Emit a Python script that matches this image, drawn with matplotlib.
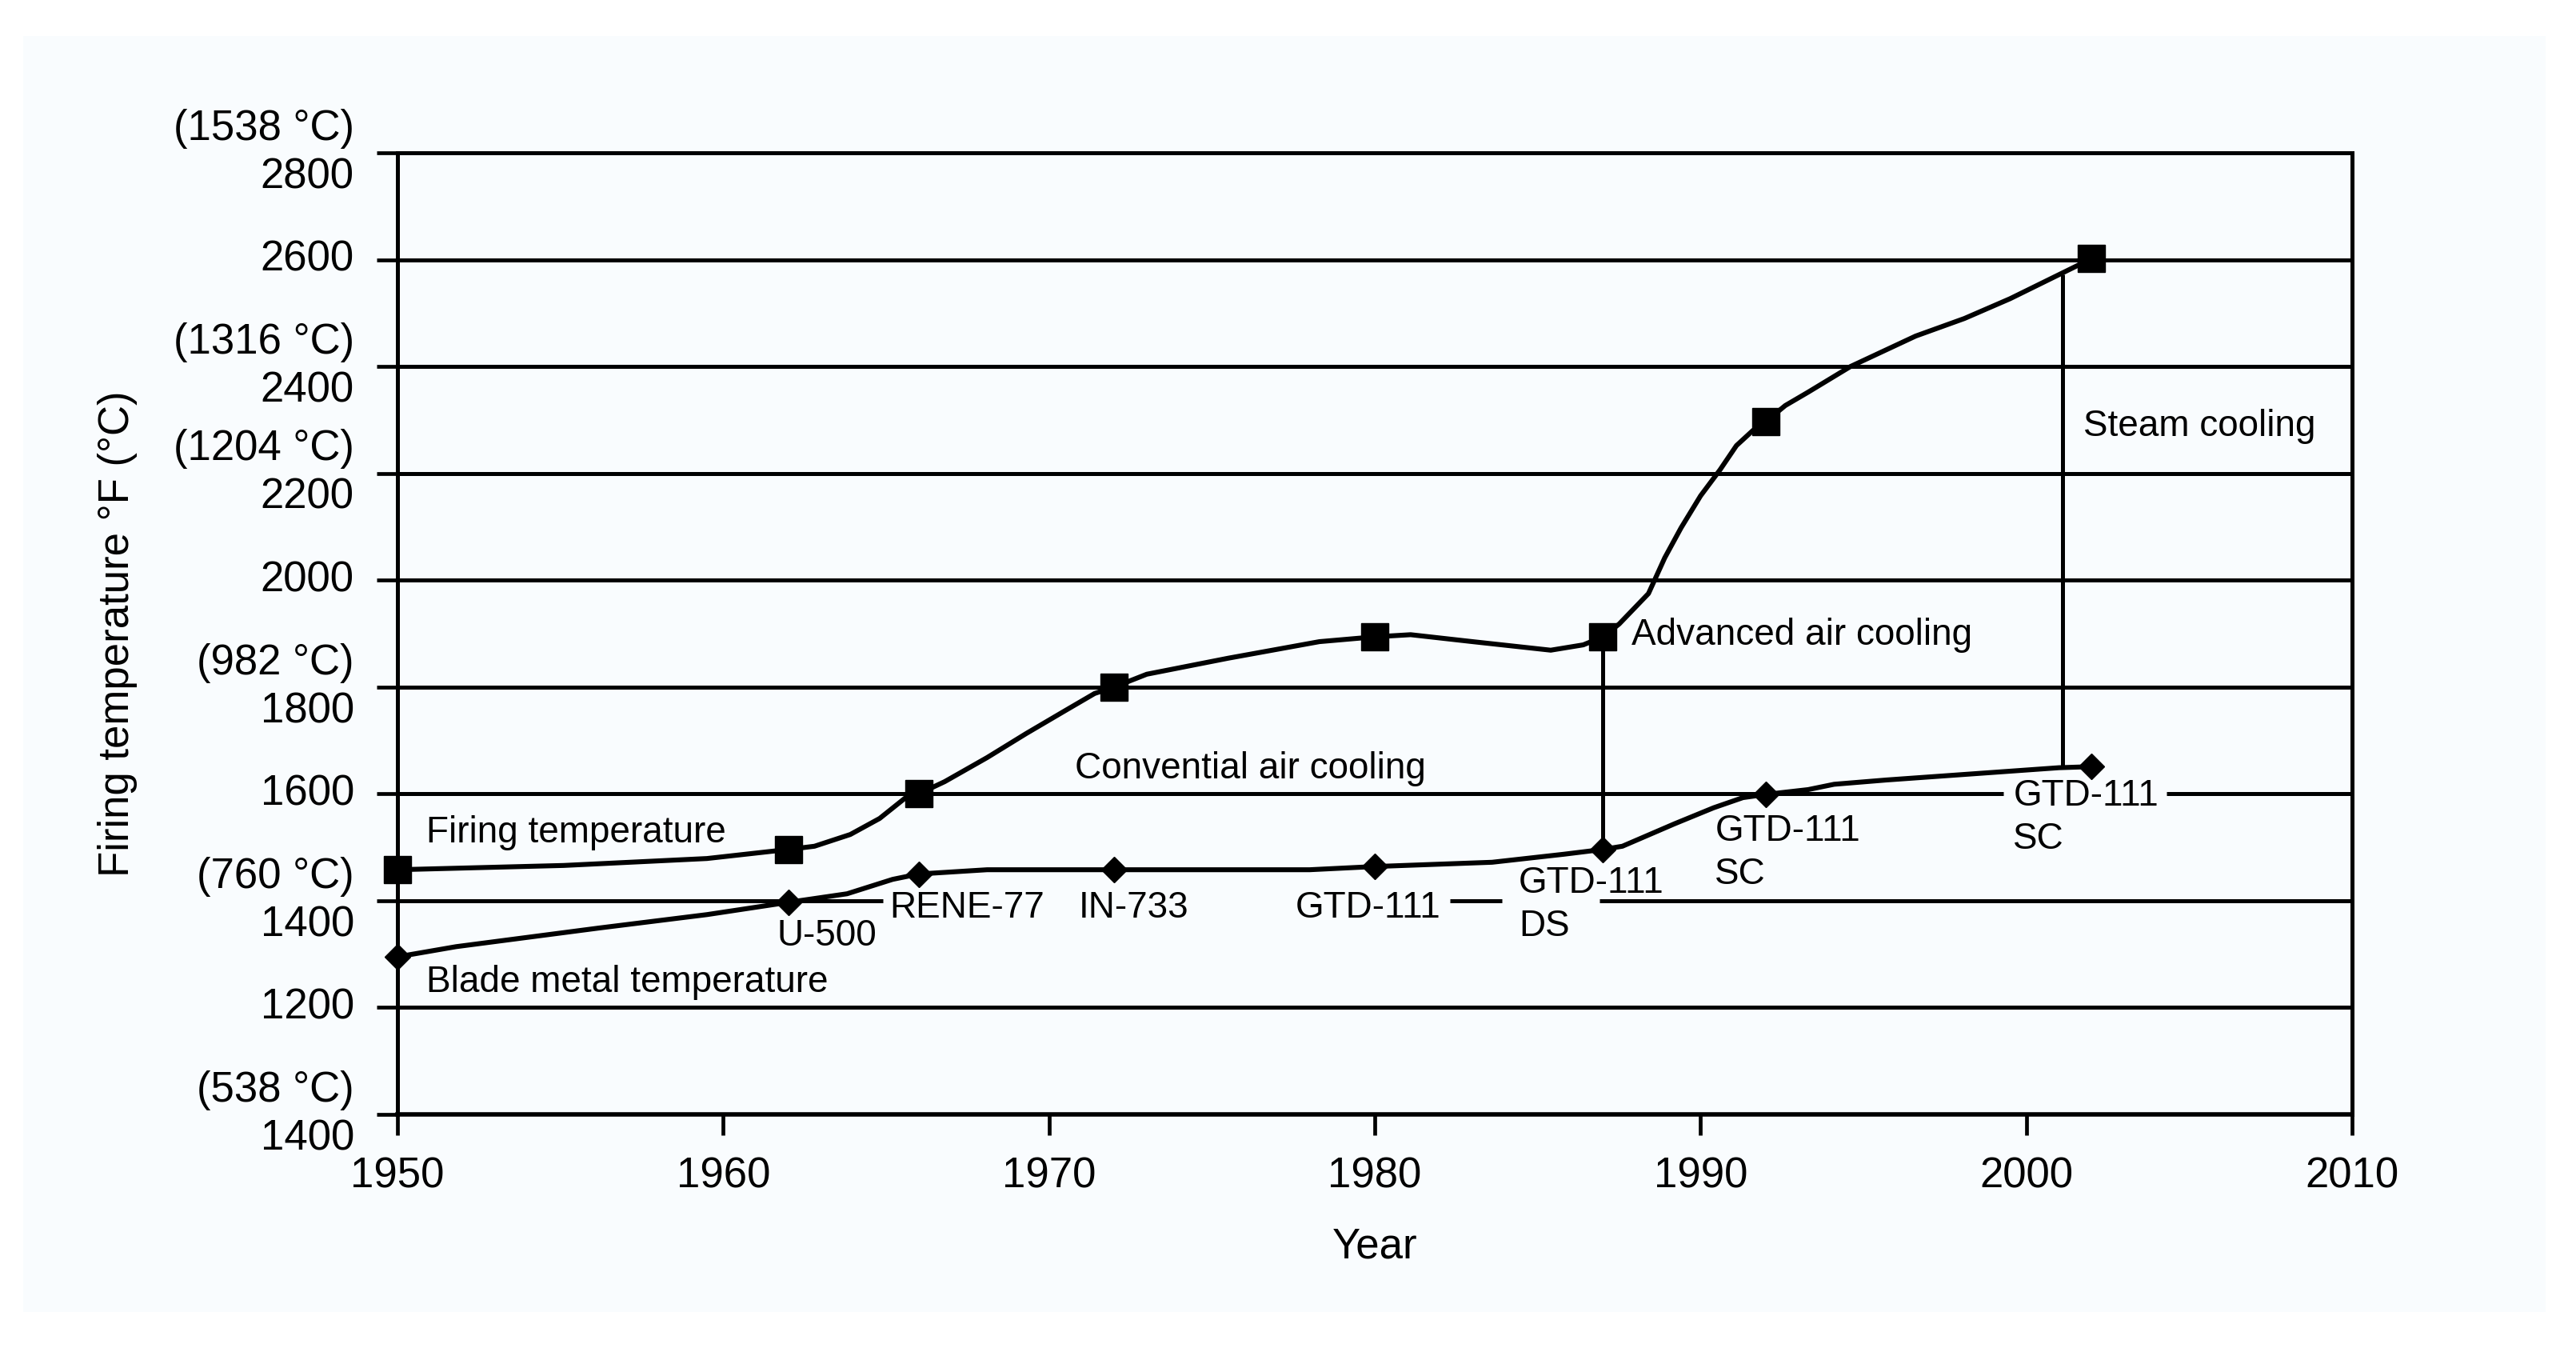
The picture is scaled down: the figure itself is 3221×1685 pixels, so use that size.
import numpy as np
import matplotlib
matplotlib.use('Agg')
import matplotlib.pyplot as plt
from matplotlib.patches import Rectangle

plt.rcParams['font.family'] = ['Liberation Sans', 'DejaVu Sans']

# marker points (year, deg F)
years = [1950, 1962, 1966, 1972, 1980, 1987, 1992, 2002]
firing_temp = [1458, 1496, 1600, 1800, 1894, 1894, 2297, 2602]
blade_temp = [1295, 1397, 1450, 1458, 1464, 1496, 1599, 1651]

# curve paths
firing_path_x = [1950, 1955.1, 1959.5, 1962, 1962.8, 1963.9, 1964.8, 1965.6, 1966,
                 1966.8, 1968.1, 1969.3, 1970.5, 1971.4, 1972,
                 1973.0, 1975.5, 1978.3, 1980, 1981.1, 1983.0, 1985.4, 1986.4, 1987,
                 1987.5, 1988.4, 1988.9, 1989.4, 1990.0, 1990.6, 1991.1, 1991.6, 1992,
                 1992.6, 1993.3, 1994.6, 1996.6, 1998.1, 1999.5, 2001.0, 2002]
firing_path_y = [1458, 1466, 1479, 1496, 1502, 1524, 1554, 1593, 1600,
                 1623, 1668, 1713, 1756, 1788, 1800,
                 1824, 1854, 1885, 1894, 1898, 1885, 1869, 1879, 1894,
                 1918, 1975, 2042, 2098, 2158, 2207, 2252, 2280, 2297,
                 2327, 2352, 2400, 2457, 2490, 2527, 2572, 2602]
blade_path_x = [1950, 1951.8, 1956.2, 1959.5, 1962, 1963.8, 1965.2, 1966, 1968.1, 1972,
                1978, 1980, 1983.6, 1985.8, 1987, 1987.6, 1989.2, 1990.4, 1991.3, 1992,
                1993.3, 1994.1, 1995.7, 2001, 2002]
blade_path_y = [1295, 1314, 1349, 1374, 1397, 1413, 1440, 1450, 1458, 1458,
                1458, 1464, 1472, 1487, 1496, 1502, 1544, 1574, 1593, 1599,
                1608, 1618, 1626, 1649, 1651]

# vertical cooling-era lines
cool_years = [1987, 2001.1]
cool_low = [1496, 1649]
cool_high = [1894, 2572]

y_ticks = [1000, 1200, 1400, 1600, 1800, 2000, 2200, 2400, 2600, 2800]
y_labels = ['(538 °C)\n1400', '1200', '(760 °C)\n1400', '1600', '(982 °C)\n1800',
            '2000', '(1204 °C)\n2200', '(1316 °C)\n2400', '2600', '(1538 °C)\n2800']
x_ticks = [1950, 1960, 1970, 1980, 1990, 2000, 2010]

# text labels: (text, x, baseline y of last line)
labels = [
    ('Firing temperature', 1950.88, 1509),
    ('Blade metal temperature', 1950.88, 1229),
    ('Convential air cooling', 1970.8, 1629),
    ('Advanced air cooling', 1987.88, 1879),
    ('Steam cooling', 2001.76, 2270),
    ('U-500', 1961.64, 1316),
    ('RENE-77', 1965.1, 1368),
    ('IN-733', 1970.9, 1368),
    ('GTD-111', 1977.57, 1368),
    ('GTD-111\nDS', 1984.42, 1334),
    ('GTD-111\nSC', 1990.44, 1431),
    ('GTD-111\nSC', 1999.6, 1497),
]

# horizontal grid, with breaks where labels sit
grid_segments = [
    (1200, 1950, 2010),
    (1400, 1950, 1964.9), (1400, 1982.3, 1983.9), (1400, 1986.9, 2010),
    (1600, 1950, 1999.3), (1600, 2004.3, 2010),
    (1800, 1950, 2010), (2000, 1950, 2010), (2200, 1950, 2010),
    (2400, 1950, 2010), (2600, 1950, 2010),
]

fig = plt.figure(figsize=(32.21, 16.85), dpi=100)
fig.patches.append(Rectangle((29/3221, 1-1640/1685), (3183-29)/3221, (1640-45)/1685,
                             transform=fig.transFigure, facecolor='#f9fcfe',
                             edgecolor='none', zorder=-10))
ax = fig.add_axes([0.1543, 0.1733, 0.7588, 0.7133])
ax.set_facecolor('none')

for y, x0, x1 in grid_segments:
    ax.hlines(y, x0, x1, color='black', lw=3.6, zorder=1)

ax.vlines(cool_years, cool_low, cool_high, color='black', lw=3.6, zorder=2)

ax.plot(firing_path_x, firing_path_y, color='black', lw=4.4, solid_joinstyle='round',
        solid_capstyle='round', zorder=3)
ax.plot(blade_path_x, blade_path_y, color='black', lw=4.4, solid_joinstyle='round',
        solid_capstyle='round', zorder=3)
ax.plot(years, firing_temp, 's', color='black', ms=24, clip_on=False, zorder=4)
ax.plot(years, blade_temp, 'D', color='black', ms=16, clip_on=False, zorder=4)

for txt, x, y in labels:
    ax.text(x, y, txt, fontsize=33, ha='left', va='baseline', linespacing=1.3, zorder=5)

ax.set_xlim(1950, 2010)
ax.set_ylim(1000, 2800)
ax.set_xticks(x_ticks)
ax.set_yticks(y_ticks)
ax.set_yticklabels(y_labels)
for lab in ax.get_yticklabels():
    lab.set_linespacing(1.27)
    lab.set_verticalalignment('center')

for s in ax.spines.values():
    s.set_linewidth(3.6)
ax.spines['bottom'].set_linewidth(4.0)
ax.tick_params(axis='both', direction='out', length=19, width=3.4, labelsize=38)
ax.tick_params(axis='y', pad=20)
ax.tick_params(axis='x', pad=19)

ax.set_xlabel('Year', fontsize=38, labelpad=27)
ax.set_ylabel('Firing temperature °F (°C)', fontsize=38, labelpad=32)

plt.savefig('out.png', dpi=100)
